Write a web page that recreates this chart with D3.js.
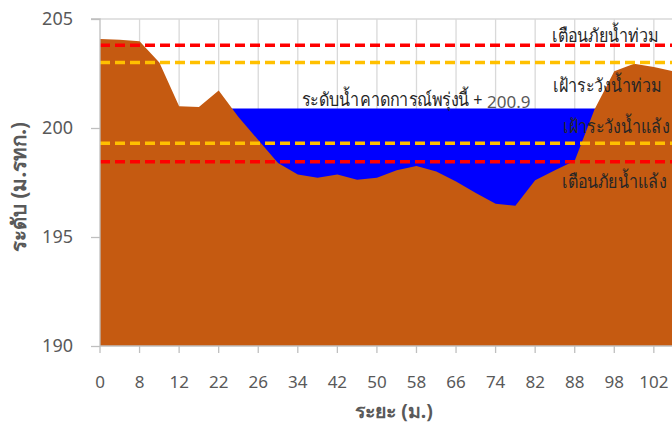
<!DOCTYPE html>
<html><head><meta charset="utf-8">
<script src="https://cdn.jsdelivr.net/npm/d3@7"></script>
<style>body{margin:0;background:#fff}svg{display:block}</style>
</head><body>
<svg id="c" width="672" height="425"></svg>
<script>
// Distance categories (m.)
const categories = [0,4,8,10,12,16,22,24,26,30,34,38,42,46,50,54,58,62,66,70,74,78,82,86,88,94,98,100,102,106];
// Ground elevation (m. MSL)
const ground = [204.08,204.05,203.98,203.0,201.0,200.96,201.72,200.5,199.45,198.4,197.87,197.72,197.87,197.63,197.72,198.06,198.26,198.0,197.55,197.02,196.52,196.43,197.6,198.06,198.5,200.85,202.6,202.95,202.8,202.6];
// Forecast water level tomorrow
const waterLevel = 200.9;
const waterFrom = 6, waterTo = 27;
const yTicks = [190,195,200,205];
const thresholds = [
  {name:"เตือนภัยน้ำท่วม", value:203.8, color:"#FF0000"},
  {name:"เฝ้าระวังน้ำท่วม", value:203.0, color:"#FFC000"},
  {name:"เฝ้าระวังน้ำแล้ง", value:199.3, color:"#FFC000"},
  {name:"เตือนภัยน้ำแล้ง", value:198.45, color:"#FF0000"}
];

const svg = d3.select("#c");
const mLeft = 100, mTop = 19, mBottom = 346;
const step = 19.78;
const x = d3.scaleLinear().domain([0, 1]).range([mLeft, mLeft + step]);
const y = d3.scaleLinear().domain([190, 205]).range([mBottom, mTop]);
const W = 672;
const SX = 0.87;

// gridlines
const g = svg.append("g");
g.selectAll("line.v").data(d3.range(2, categories.length, 2)).join("line")
  .attr("x1", d => x(d)).attr("x2", d => x(d)).attr("y1", mTop).attr("y2", mBottom)
  .attr("stroke", "#d9d9d9").attr("stroke-width", 1.3);
g.append("g").selectAll("line").data(yTicks.slice(1)).join("line")
  .attr("x1", mLeft).attr("x2", W).attr("y1", d => y(d)).attr("y2", d => y(d))
  .attr("stroke", "#d9d9d9").attr("stroke-width", 1.3);

// water
const waterData = categories.map((c, i) => ({i, v: (i >= waterFrom && i <= waterTo) ? waterLevel : null}));
svg.append("path").datum(waterData)
  .attr("d", d3.area().defined(d => d.v !== null).x(d => x(d.i)).y0(y(190)).y1(d => y(d.v)))
  .attr("fill", "#0000FF");

// ground
svg.append("path").datum(ground.map((v, i) => ({i, v})))
  .attr("d", d3.area().x(d => x(d.i)).y0(y(190)).y1(d => y(d.v)))
  .attr("fill", "#C55A11");

// threshold lines
svg.append("g").selectAll("line").data(thresholds).join("line")
  .attr("x1", mLeft).attr("x2", W).attr("y1", d => y(d.value)).attr("y2", d => y(d.value))
  .attr("stroke", d => d.color).attr("stroke-width", 3.5).attr("stroke-dasharray", "10,5");

// axes
const yAxis = d3.axisLeft(y).tickValues(yTicks).tickSize(9).tickPadding(18);
const ya = svg.append("g").attr("transform", `translate(${mLeft},0)`).call(yAxis);
ya.select(".domain").attr("stroke", "#bfbfbf").attr("stroke-width", 1.3).attr("d", `M-9,${mTop}H0V${mBottom}`);
ya.selectAll(".tick line").attr("stroke", "#bfbfbf").attr("stroke-width", 1.3);
ya.selectAll(".tick text").attr("fill", "#595959").style("font", "18px 'Noto Sans', sans-serif");

const xa = svg.append("g").attr("transform", `translate(0,${mBottom})`);
xa.append("line").attr("x1", mLeft).attr("x2", W).attr("stroke", "#bfbfbf").attr("stroke-width", 1.3);
const xt = xa.selectAll("g").data(d3.range(0, categories.length, 2)).join("g")
  .attr("transform", d => `translate(${x(d)},0)`);
xt.append("line").attr("y2", 7).attr("stroke", "#bfbfbf").attr("stroke-width", 1.3);
xt.append("text").attr("y", 42).attr("text-anchor", "middle").attr("fill", "#595959")
  .style("font", "17px 'Noto Sans', sans-serif").text(d => categories[d]);

// threshold labels
const labelPos = [
  {x: 658, y: 42},
  {x: 661, y: 92},
  {x: 669, y: 133},
  {x: 666, y: 188}
];
svg.append("g").selectAll("text").data(thresholds).join("text")
  .attr("transform", (d, i) => `translate(${labelPos[i].x},${labelPos[i].y}) scale(${SX},1)`)
  .attr("text-anchor", "end").attr("fill", "#262626")
  .style("font", "18.5px 'Noto Sans', sans-serif").text(d => d.name);

svg.append("text").attr("transform", `translate(302,106) scale(${SX},1)`).attr("fill", "#262626")
  .style("font", "18.5px 'Noto Sans', sans-serif").text("ระดับน้ำคาดการณ์พรุ่งนี้ +");
svg.append("text").attr("x", 487).attr("y", 108).attr("fill", "#595959")
  .style("font", "17px 'Noto Sans', sans-serif").text(waterLevel.toFixed(1));

// axis titles
svg.append("text").attr("transform", "translate(26,187) rotate(-90)").attr("text-anchor", "middle")
  .attr("fill", "#595959").style("font", "bold 20.5px 'Noto Sans', sans-serif").text("ระดับ (ม.รทก.)");
svg.append("text").attr("x", 394).attr("y", 418).attr("text-anchor", "middle")
  .attr("fill", "#595959").style("font", "bold 19.5px 'Noto Sans', sans-serif").text("ระยะ (ม.)");
</script>
</body></html>
